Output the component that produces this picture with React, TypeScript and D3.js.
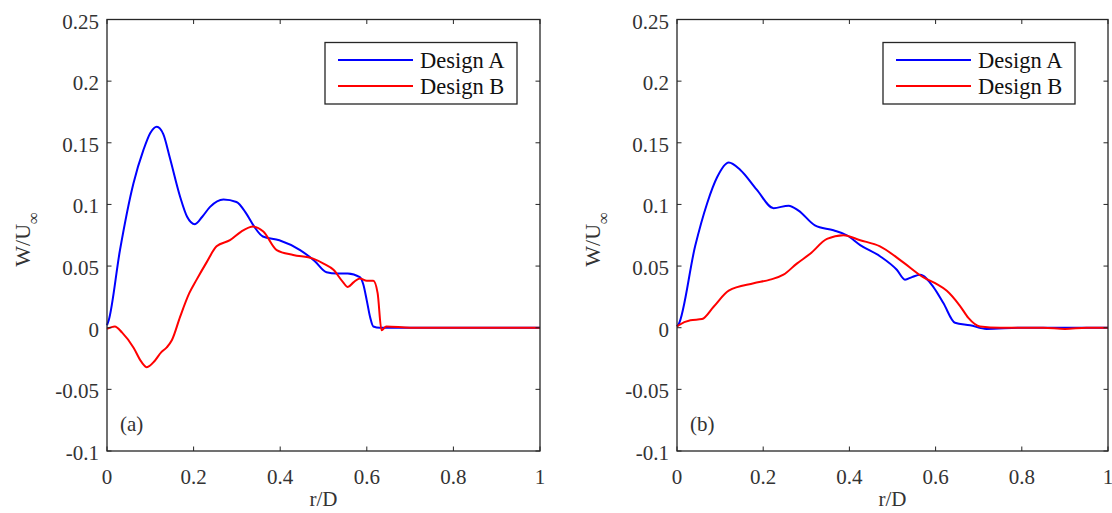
import React from "react";
import * as d3 from "d3";

const xTicks = [0, 0.2, 0.4, 0.6, 0.8, 1];
const yTicks = [-0.1, -0.05, 0, 0.05, 0.1, 0.15, 0.2, 0.25];
const seriesNames = ["Design A", "Design B"];
const seriesColors = ["#0000ff", "#ff0000"];

// Panel (a)
const aDesignA: [number, number][] = [
  [0, 0.002], [0.004, 0.006], [0.03, 0.063], [0.061, 0.117], [0.084, 0.144], [0.1, 0.158], [0.115, 0.163],
  [0.13, 0.157], [0.145, 0.138], [0.169, 0.106], [0.185, 0.09], [0.203, 0.084], [0.22, 0.09], [0.238, 0.098],
  [0.269, 0.104], [0.299, 0.102], [0.321, 0.093], [0.34, 0.082], [0.36, 0.074], [0.398, 0.071], [0.446, 0.063],
  [0.48, 0.054], [0.507, 0.045], [0.53, 0.044], [0.556, 0.044], [0.584, 0.041], [0.592, 0.035], [0.6, 0.022],
  [0.608, 0.008], [0.615, 0.001], [0.63, 0.0], [0.7, 0.0], [0.8, 0.0], [0.9, 0.0], [1.0, 0.0],
];
const aDesignB: [number, number][] = [
  [0, -0.001], [0.018, 0.001], [0.035, -0.004], [0.061, -0.016], [0.08, -0.028], [0.092, -0.032], [0.11, -0.027],
  [0.125, -0.02], [0.138, -0.016], [0.15, -0.01], [0.169, 0.009], [0.19, 0.028], [0.207, 0.039], [0.23, 0.053],
  [0.253, 0.066], [0.284, 0.071], [0.31, 0.078], [0.338, 0.082], [0.361, 0.078], [0.392, 0.063], [0.43, 0.059],
  [0.476, 0.056], [0.5, 0.052], [0.523, 0.047], [0.545, 0.037], [0.556, 0.033], [0.57, 0.037], [0.584, 0.04],
  [0.6, 0.038], [0.615, 0.038], [0.625, 0.028], [0.634, -0.002], [0.645, 0.001], [0.7, 0.0], [0.8, 0.0],
  [0.9, 0.0], [1.0, 0.0],
];

// Panel (b)
const bDesignA: [number, number][] = [
  [0, 0.001], [0.004, 0.003], [0.042, 0.066], [0.07, 0.101], [0.093, 0.122], [0.12, 0.134], [0.147, 0.128],
  [0.185, 0.112], [0.224, 0.097], [0.259, 0.099], [0.282, 0.095], [0.32, 0.083], [0.363, 0.079], [0.394, 0.075],
  [0.425, 0.067], [0.471, 0.058], [0.51, 0.047], [0.529, 0.039], [0.545, 0.041], [0.564, 0.043], [0.595, 0.033],
  [0.618, 0.02], [0.645, 0.004], [0.68, 0.002], [0.718, -0.001], [0.8, 0.0], [0.9, 0.0], [1.0, 0.0],
];
const bDesignB: [number, number][] = [
  [0, 0.001], [0.004, 0.002], [0.031, 0.006], [0.058, 0.007], [0.085, 0.017], [0.12, 0.03], [0.178, 0.036],
  [0.216, 0.039], [0.247, 0.043], [0.278, 0.052], [0.309, 0.06], [0.348, 0.072], [0.386, 0.075], [0.425, 0.071],
  [0.471, 0.066], [0.525, 0.053], [0.571, 0.041], [0.6, 0.036], [0.626, 0.03], [0.656, 0.018], [0.676, 0.008],
  [0.703, 0.001], [0.75, 0.0], [0.85, 0.0], [0.9, -0.001], [0.95, 0.0], [1.0, 0.0],
];

const panels = [
  { label: "(a)", series: [aDesignA, aDesignB], x0: 107, x1: 540, legendX: 325 },
  { label: "(b)", series: [bDesignA, bDesignB], x0: 677, x1: 1108, legendX: 883 },
];

const TOP = 19.5;
const BOTTOM = 451;
const AXIS_COLOR = "#262626";
const TEXT_COLOR = "#333";
const FONT = "'Liberation Serif', 'Times New Roman', serif";
const FS = 21;

function fmt(v: number) {
  if (v === 0) return "0";
  if (v === 1) return "1";
  return String(+v.toFixed(2));
}

function Panel({ p }: { p: (typeof panels)[number] }) {
  const x = d3.scaleLinear().domain([0, 1]).range([p.x0, p.x1]);
  const y = d3.scaleLinear().domain([-0.1, 0.25]).range([BOTTOM, TOP]);
  const line = d3
    .line<[number, number]>()
    .x((d) => x(d[0]))
    .y((d) => y(d[1]))
    .curve(d3.curveMonotoneX);
  const tl = 4.5;
  const cx = (p.x0 + p.x1) / 2;
  return (
    <g>
      <defs>
        <clipPath id={"clip" + p.label}>
          <rect x={p.x0} y={TOP} width={p.x1 - p.x0} height={BOTTOM - TOP} />
        </clipPath>
      </defs>
      <g clipPath={`url(#clip${p.label})`}>
        {p.series.map((s, i) => (
          <path key={i} d={line(s) || ""} fill="none" stroke={seriesColors[i]} strokeWidth={2} strokeLinejoin="round" />
        ))}
      </g>
      <rect x={p.x0} y={TOP} width={p.x1 - p.x0} height={BOTTOM - TOP} fill="none" stroke={AXIS_COLOR} strokeWidth={1.3} />
      {xTicks.map((t) => (
        <g key={"x" + t}>
          <line x1={x(t)} x2={x(t)} y1={BOTTOM} y2={BOTTOM - tl} stroke={AXIS_COLOR} strokeWidth={1} />
          <line x1={x(t)} x2={x(t)} y1={TOP} y2={TOP + tl} stroke={AXIS_COLOR} strokeWidth={1} />
          <text x={x(t)} y={BOTTOM + 33} textAnchor="middle" fontSize={FS} fill={TEXT_COLOR} fontFamily={FONT}>
            {fmt(t)}
          </text>
        </g>
      ))}
      {yTicks.map((t) => (
        <g key={"y" + t}>
          <line x1={p.x0} x2={p.x0 + tl} y1={y(t)} y2={y(t)} stroke={AXIS_COLOR} strokeWidth={1} />
          <line x1={p.x1} x2={p.x1 - tl} y1={y(t)} y2={y(t)} stroke={AXIS_COLOR} strokeWidth={1} />
          <text x={p.x0 - 8} y={y(t) + 9} textAnchor="end" fontSize={FS} fill={TEXT_COLOR} fontFamily={FONT}>
            {fmt(t)}
          </text>
        </g>
      ))}
      <text x={cx} y={BOTTOM + 55} textAnchor="middle" fontSize={FS} fill={TEXT_COLOR} fontFamily={FONT}>
        r/D
      </text>
      <g transform={`translate(${p.x0 - 77}, ${(TOP + BOTTOM) / 2 + 4}) rotate(-90)`}>
        <text x={0} y={0} textAnchor="middle" fontSize={22} fill={TEXT_COLOR} fontFamily={FONT}>
          W/U
          <tspan fontSize={17} dy={9}>
            ∞
          </tspan>
        </text>
      </g>
      <text x={p.x0 + 13} y={431} fontSize={FS} fill={TEXT_COLOR} fontFamily={FONT}>
        {p.label}
      </text>
      <g>
        <rect x={p.legendX} y={42.5} width={192} height={61.5} fill="#fff" stroke={AXIS_COLOR} strokeWidth={1.3} />
        {seriesNames.map((n, i) => (
          <g key={n}>
            <line
              x1={p.legendX + 13}
              x2={p.legendX + 88}
              y1={60 + i * 26}
              y2={60 + i * 26}
              stroke={seriesColors[i]}
              strokeWidth={2}
            />
            <text x={p.legendX + 95} y={67.5 + i * 26} fontSize={22.5} fill="#111" fontFamily={FONT}>
              {n}
            </text>
          </g>
        ))}
      </g>
    </g>
  );
}

export default function App() {
  return (
    <svg
      width={1112}
      height={513}
      viewBox="0 0 1112 513"
      style={{ position: "absolute", left: 0, top: 0, background: "#fff" }}
    >
      <rect x={0} y={0} width={1112} height={513} fill="#fff" />
      {panels.map((p) => (
        <Panel key={p.label} p={p} />
      ))}
    </svg>
  );
}
